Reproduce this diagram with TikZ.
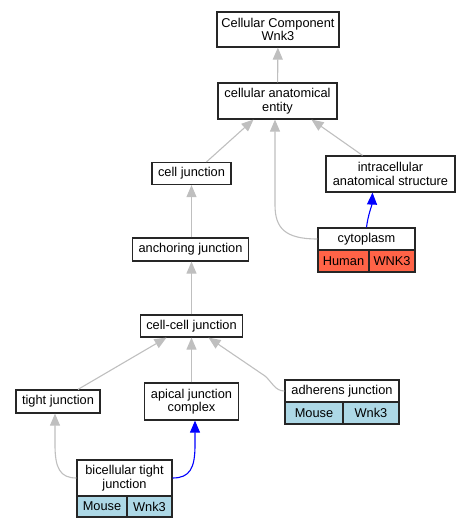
\documentclass[tikz,border=0pt]{standalone}
\usepackage{fontspec}
\setmainfont{Liberation Sans}
\usetikzlibrary{arrows.meta}

\definecolor{mouseblue}{HTML}{ADD8E6}
\definecolor{humanred}{HTML}{FF6347}

\begin{document}
\begin{tikzpicture}[x = 1pt, y = -1pt,
    every node/.style = {font=\fontsize{12.8}{13.5}\selectfont, inner sep=0pt, align=center},
    term/.style = {draw=black!85, line width=1.2pt, fill=white},
    isa/.style = {draw=black!25, line width=1.1pt, -{Triangle[length=12pt,width=10pt]}},
    link/.style = {draw=blue, line width=1.1pt, -{Triangle[length=12pt,width=10pt]}}]
    \useasboundingbox (0,0) rectangle (471,528);

    \node [term, minimum width=122pt, minimum height=35pt] (top) at (278,29.5) {Cellular Component\\Wnk3};
    \node [term, minimum width=119pt, minimum height=36pt] (cae) at (277.5,101) {cellular anatomical\\entity};
    \node [term, minimum width=79pt, minimum height=22pt] (cj) at (191.5,173.5) {cell junction};
    \node [term, minimum width=129pt, minimum height=36pt] (ias) at (390.5,174) {intracellular\\anatomical structure};
    \node [term, minimum width=97pt, minimum height=22pt] (cyto) at (366.5,239) {cytoplasm};
    \node [term, fill=humanred, minimum width=51pt, minimum height=22pt] (cytosp) at (343.5,261) {Human};
    \node [term, fill=humanred, minimum width=46pt, minimum height=22pt] (cytogene) at (392,261) {WNK3};
    \node [term, minimum width=116pt, minimum height=23pt] (aj) at (190.5,249.5) {anchoring junction};
    \node [term, minimum width=102pt, minimum height=22pt] (ccj) at (191.5,326) {cell-cell junction};
    \node [term, minimum width=84pt, minimum height=23pt] (tj) at (58,401.5) {tight junction};
    \node [term, minimum width=94pt, minimum height=37pt] (ajc) at (191.5,401.5) {apical junction\\complex};
    \node [term, minimum width=114pt, minimum height=22pt] (adh) at (342,391) {adherens junction};
    \node [term, fill=mouseblue, minimum width=58pt, minimum height=22pt] (adhsp) at (314,413) {Mouse};
    \node [term, fill=mouseblue, minimum width=56pt, minimum height=22pt] (adhgene) at (371,413) {Wnk3};
    \node [term, minimum width=95pt, minimum height=36pt] (btj) at (124.5,478) {bicellular tight\\junction};
    \node [term, fill=mouseblue, minimum width=50pt, minimum height=21pt] (btjsp) at (102,506.5) {Mouse};
    \node [term, fill=mouseblue, minimum width=45pt, minimum height=21pt] (btjgene) at (149.5,506.5) {Wnk3};

    \draw [isa] (cae) -- (top);
    \draw [isa] ([xshift=15pt]cj.north) -- ([xshift=-24pt]cae.south);
    \draw [isa] (cyto.west) .. controls (285,239) and (275,228) .. (275,205) -- ([xshift=-2.5pt]cae.south);
    \draw [isa] ([xshift=-28pt]ias.north) -- ([xshift=34pt]cae.south);
    \draw [isa] (aj.north -| cj) -- (cj);
    \draw [isa] (ccj) -- (ccj |- aj.south);
    \draw [isa] ([xshift=20pt]tj.north) -- ([xshift=-25pt]ccj.south);
    \draw [isa] (ajc) -- (ccj);
    \draw [isa] (adh.west) .. controls (275,391) and (272,382) .. (265,376) -- ([xshift=17pt]ccj.south);
    \draw [isa] (btj.west) .. controls (60,478) and (55,468) .. (55,445) -- ([xshift=-3pt]tj.south);
    \draw [link] (btj.east) .. controls (190,478) and (195,468) .. (195,445) -- ([xshift=3.5pt]ajc.south);
    \draw [link] (cyto.north) .. controls (368,215) and (372,205) .. ([xshift=-18pt]ias.south);
\end{tikzpicture}
\end{document}
